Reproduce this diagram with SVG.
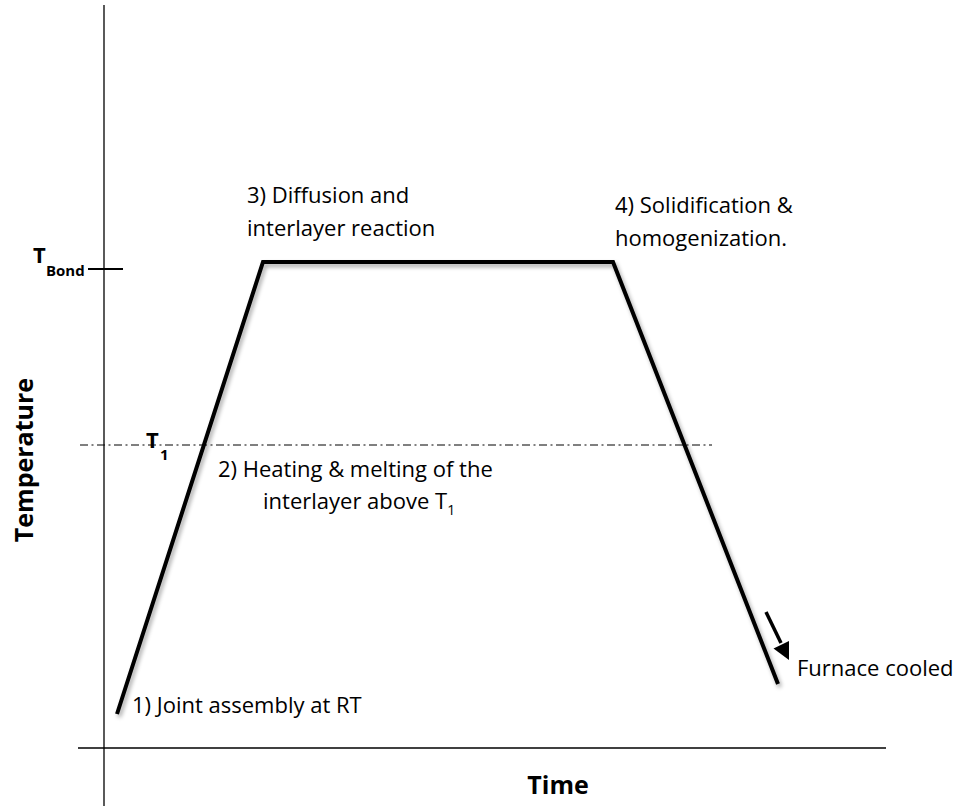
<svg xmlns="http://www.w3.org/2000/svg" width="979" height="806" viewBox="0 0 979 806">
<defs>
<style>
.t{font-family:"Open Sans",Lato,"Liberation Sans",sans-serif;font-size:22px;fill:#000}
.b{font-family:"Open Sans",Lato,"Liberation Sans",sans-serif;font-weight:bold;fill:#000}
.ax{stroke:#000;stroke-width:1.3;fill:none}
</style>
<filter id="sh" x="-10%" y="-10%" width="120%" height="120%">
<feGaussianBlur in="SourceAlpha" stdDeviation="2"/>
<feOffset dx="2" dy="3"/>
<feComponentTransfer><feFuncA type="linear" slope="0.35"/></feComponentTransfer>
<feMerge><feMergeNode/><feMergeNode in="SourceGraphic"/></feMerge>
</filter>
</defs>
<rect width="979" height="806" fill="#fff"/>
<g id="axes">
<line class="ax" x1="104" y1="5" x2="104" y2="806"/>
<line class="ax" x1="78" y1="748" x2="886" y2="748"/>
<line x1="88" y1="269" x2="123" y2="269" stroke="#000" stroke-width="2"/>
<line x1="80" y1="445" x2="712" y2="445" stroke="#000" stroke-width="1" stroke-dasharray="8,3.5,2,3.5"/>
</g>
<g id="connectors">
<polyline points="117,714 263,262 613,262 778,684" fill="none" stroke="#000" stroke-width="4" filter="url(#sh)"/>
<line x1="766" y1="612" x2="781" y2="643" stroke="#000" stroke-width="3.5"/>
<path d="M789,660 L773.5,648.5 L789,641 z" fill="#000"/>
</g>
<g id="labels">
<text class="b" x="33" y="263" font-size="22">T</text>
<text class="b" x="46" y="276" font-size="15">Bond</text>
<text class="b" x="146" y="448" font-size="22">T</text>
<text class="b" x="160" y="460" font-size="15">1</text>
<text class="t" x="247" y="203">3) Diffusion and</text>
<text class="t" x="247" y="236">interlayer reaction</text>
<text class="t" x="615" y="213">4) Solidification &amp;</text>
<text class="t" x="615" y="246">homogenization.</text>
<text class="t" x="218" y="477">2) Heating &amp; melting of the</text>
<text class="t" x="263" y="509">interlayer above T<tspan font-size="14" dy="6">1</tspan></text>
<text class="t" x="132" y="713">1) Joint assembly at RT</text>
<text class="t" x="797" y="676">Furnace cooled</text>
<text class="b" x="558" y="794" font-size="25" text-anchor="middle">Time</text>
<text class="b" x="0" y="0" font-size="25" text-anchor="middle" transform="translate(33,460) rotate(-90)">Temperature</text>
</g>
</svg>
